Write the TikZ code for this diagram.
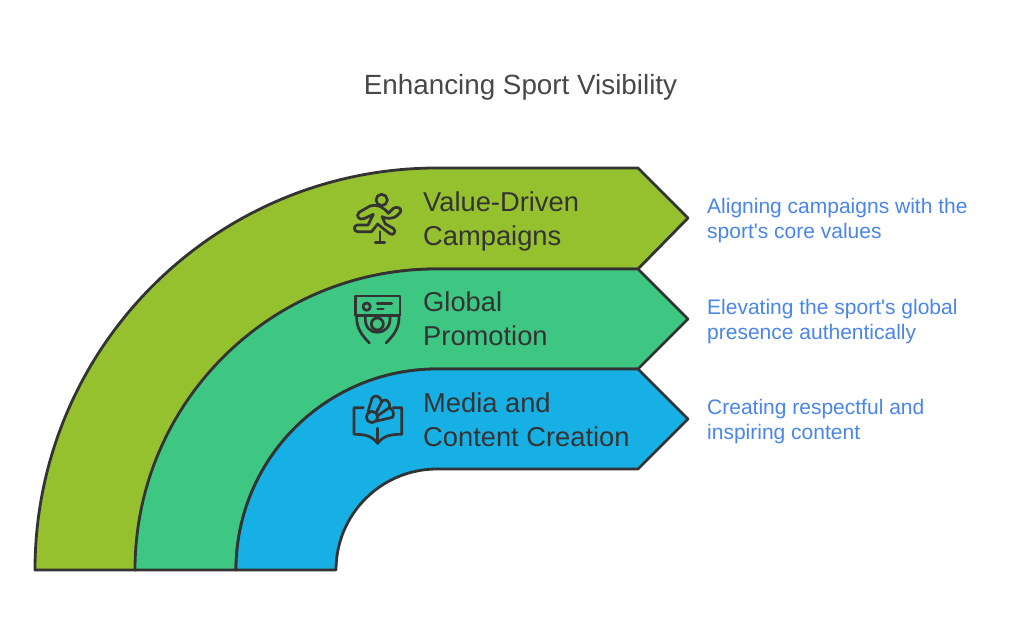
\documentclass[tikz,border=0pt]{standalone}
\usepackage{fontspec}
\newfontfamily\labfont{Liberation Sans}
\definecolor{inkc}{HTML}{333333}
\definecolor{olivec}{HTML}{96C12F}
\definecolor{mintc}{HTML}{3EC683}
\definecolor{skyc}{HTML}{17B0E5}
\definecolor{bluetext}{HTML}{4A86E8}
\definecolor{titlec}{HTML}{484848}
\tikzset{
  band/.style={draw=inkc,line width=2.8pt,line join=round},
  stagelabel/.style={anchor=west,align=left,text=inkc,font=\labfont\fontsize{27.3}{34}\selectfont,inner sep=0pt},
  sidelabel/.style={anchor=west,align=left,text=bluetext,font=\labfont\fontsize{21}{25}\selectfont,inner sep=0pt},
  titlelabel/.style={text=titlec,font=\labfont\fontsize{27.8}{32}\selectfont,inner sep=0pt},
  icon/.style={draw=inkc,line width=2.7pt,line cap=round,line join=round,fill=none},
  iconframe/.style={x=0.3333pt,y=-0.3333pt}
}
\begin{document}
\begin{tikzpicture}[x=1pt,y=1pt]
\useasboundingbox (0,0) rectangle (1024,639);
\fill[white] (0,0) rectangle (1024,639);
% bands (y = 639 - pixel row)
\draw[band,fill=olivec] (35,69) arc[start angle=180,end angle=90,radius=402] -- (638,471) -- (688,421) -- (638,370) -- (437,370) arc[start angle=90,end angle=180,radius=301] -- cycle;
\draw[band,fill=mintc] (135,69) arc[start angle=180,end angle=90,radius=301] -- (638,370) -- (688,320) -- (638,270) -- (437,270) arc[start angle=90,end angle=180,radius=201] -- cycle;
\draw[band,fill=skyc] (236,69) arc[start angle=180,end angle=90,radius=201] -- (638,270) -- (688,220) -- (638,170) -- (437,170) arc[start angle=90,end angle=180,radius=101] -- cycle;
% title
\node[titlelabel] (title) at (520.5,551.5) {Enhancing Sport Visibility};
% stage labels
\node[stagelabel] (s1) at (423,417.5) {Value-Driven\\Campaigns};
\node[stagelabel] (s2) at (423,320) {Global\\Promotion};
\node[stagelabel] (s3) at (423,219) {Media and\\Content Creation};
% side labels
\node[sidelabel] (d1) at (707,418.5) {Aligning campaigns with the\\sport's core values};
\node[sidelabel] (d2) at (707,317.5) {Elevating the sport's global\\presence authentically};
\node[sidelabel] (d3) at (707,217.5) {Creating respectful and\\inspiring content};
% runner icon
\begin{scope}[shift={(340,459)},iconframe]
  \draw[icon] (125,60) circle[radius=17];
  \draw[icon] (57,97) -- (90,78) .. controls (112,72) and (130,80) .. (145,100)
     -- (160,85) .. controls (170,78) and (188,84) .. (181,97) -- (170,108)
     .. controls (160,116) and (140,118) .. (126,110)
     -- (136,132) -- (160,145) .. controls (172,155) and (158,170) .. (148,160)
     -- (135,150) -- (113,132) -- (95,155) -- (52,155)
     .. controls (40,152) and (40,138) .. (52,135) -- (84,135) -- (100,103)
     -- (72,116) .. controls (58,122) and (46,108) .. cycle;
  \draw[icon] (120,155) -- (120,187) (106,188) -- (134,188);
\end{scope}
% camera icon
\begin{scope}[shift={(340,354)},iconframe]
  \draw[icon] (47,33) rectangle (180,92);
  \draw[icon] (80,65) circle[radius=11];
  \draw[icon] (112,55) -- (155,55) (113,72) -- (130,72);
  \draw[icon] (112,117) circle[radius=18];
  \draw[icon] (76,96) .. controls (74,128) and (92,142) .. (112,142) .. controls (132,142) and (152,128) .. (150,96);
  \draw[icon] (50,97) .. controls (50,130) and (65,150) .. (88,174);
  \draw[icon] (177,97) .. controls (177,130) and (162,150) .. (138,174);
\end{scope}
% book and shuttlecock icon
\begin{scope}[shift={(340,254)},iconframe]
  \draw[icon] (70,68) -- (42,68) -- (42,148) .. controls (75,148) and (95,152) .. (113,175)
     .. controls (131,152) and (151,148) .. (185,148) -- (185,68) -- (160,68);
  \draw[icon] (113,130) -- (113,175);
  \draw[icon] (84,80) -- (96,40) .. controls (102,28) and (122,32) .. (125,50)
     .. controls (135,38) and (152,48) .. (148,68) .. controls (158,72) and (164,85) .. (158,97)
     -- (110,108);
  \draw[icon] (96,96) circle[radius=17];
  \draw[icon] (125,50) -- (108,84) (148,68) -- (113,92);
\end{scope}
\end{tikzpicture}
\end{document}
